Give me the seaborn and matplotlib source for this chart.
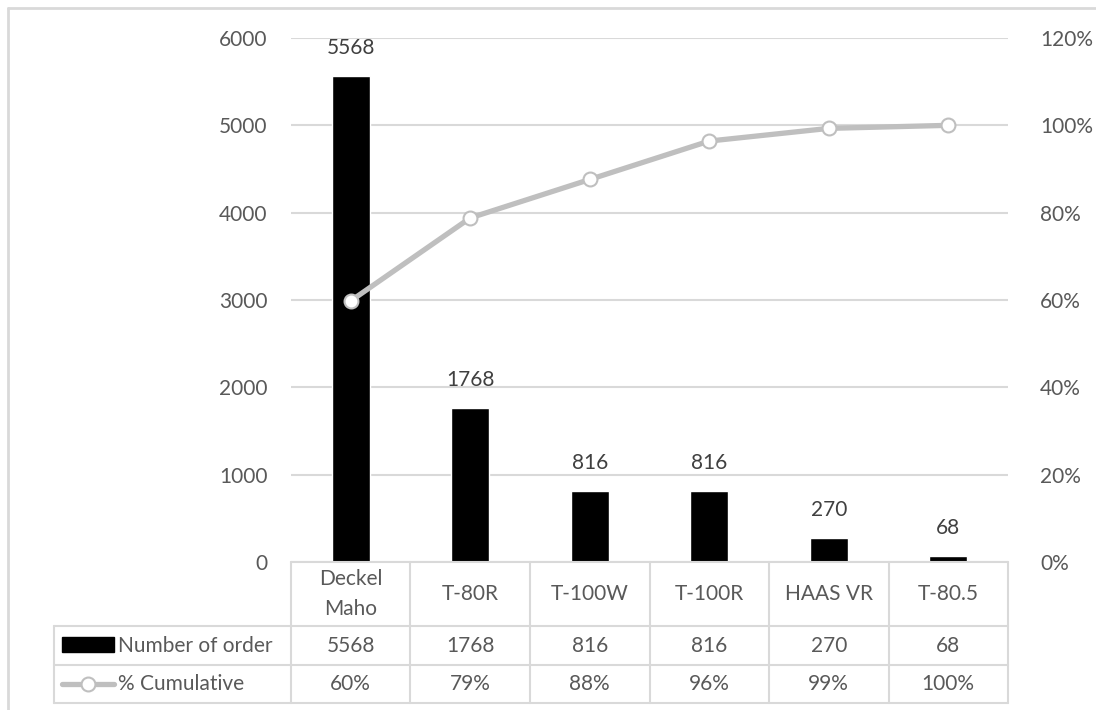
import numpy as np
import pandas as pd
import seaborn as sns
import matplotlib.pyplot as plt
from matplotlib.transforms import blended_transform_factory
from matplotlib.lines import Line2D
from matplotlib.patches import Rectangle

sns.set_theme(style="white")
plt.rcParams['font.family'] = ['Lato', 'DejaVu Sans']

categories = ["Deckel\nMaho", "T-80R", "T-100W", "T-100R", "HAAS VR", "T-80.5"]
orders = [5568, 1768, 816, 816, 270, 68]
cumulative = [59.8, 78.8, 87.6, 96.4, 99.3, 100.0]
cum_labels = ["60%", "79%", "88%", "96%", "99%", "100%"]
series_names = ["Number of order", "% Cumulative"]

W, H = 1096, 710
fig = plt.figure(figsize=(W / 100, H / 100), dpi=100)
L, R, T, B = 291, 1008, 38, 562
ax = fig.add_axes([L / W, 1 - B / H, (R - L) / W, (B - T) / H])

TXT = "#595959"
GRID = "#D9D9D9"
FS = 15

df = pd.DataFrame({"cat": categories, "orders": orders, "cum": cumulative})
sns.barplot(data=df, x="cat", y="orders", color="black", width=0.32,
            saturation=1, ax=ax, zorder=3)
ax.set_ylim(0, 6000)
ax.set_yticks(np.arange(0, 6001, 1000))
ax.set_xlim(-0.5, len(categories) - 0.5)
ax.yaxis.grid(True, color=GRID, linewidth=1.5)
ax.set_axisbelow(True)
for s in ax.spines.values():
    s.set_visible(False)
ax.set_xlabel("")
ax.set_ylabel("")
ax.set_xticks([])
ax.tick_params(axis="y", length=0, pad=17, labelsize=FS, labelcolor=TXT)
for c in ax.containers:
    ax.bar_label(c, labels=[str(v) for v in orders], padding=13,
                 fontsize=FS, color="#404040")

ax2 = ax.twinx()
ax2.set_position(ax.get_position())
sns.lineplot(x=np.arange(len(cumulative)), y=df["cum"], ax=ax2, color="#BFBFBF",
             linewidth=3.8, marker="o", markersize=10, markerfacecolor="white",
             markeredgecolor="#BFBFBF", markeredgewidth=1.5, zorder=4)
ax2.set_ylim(0, 120)
ax2.set_yticks(np.arange(0, 121, 20))
ax2.set_yticklabels([f"{v}%" for v in range(0, 121, 20)])
ax2.tick_params(axis="y", length=0, pad=23, labelsize=FS, labelcolor=TXT)
ax2.set_ylabel("")
ax2.grid(False)
for s in ax2.spines.values():
    s.set_visible(False)
ax2.set_xlim(-0.5, len(categories) - 0.5)

# Data table
tr = blended_transform_factory(ax.transData, fig.transFigure)
def fy(px):
    return 1 - px / H
def fx(px):
    return px / W

y_axis, y_r1, y_r2, y_bot = 562, 626, 665, 703
x_left = 54
tab_kw = dict(color=GRID, linewidth=1.5, clip_on=False)
fig.add_artist(Line2D([fx(L), fx(R)], [fy(y_axis)] * 2, **tab_kw))
for yy in (y_r1, y_r2, y_bot):
    fig.add_artist(Line2D([fx(x_left), fx(R)], [fy(yy)] * 2, **tab_kw))
fig.add_artist(Line2D([fx(x_left)] * 2, [fy(y_r1), fy(y_bot)], **tab_kw))
for i in range(len(categories) + 1):
    xb = i - 0.5
    fig.add_artist(Line2D([xb, xb], [fy(y_axis), fy(y_bot)], transform=tr, **tab_kw))

for i, (c, n, p) in enumerate(zip(categories, orders, cum_labels)):
    fig.text(i, fy((y_axis + y_r1) / 2), c, transform=tr, ha="center", va="center",
             fontsize=FS, color=TXT, linespacing=1.6)
    fig.text(i, fy((y_r1 + y_r2) / 2), str(n), transform=tr, ha="center", va="center",
             fontsize=FS, color=TXT)
    fig.text(i, fy((y_r2 + y_bot) / 2), p, transform=tr, ha="center", va="center",
             fontsize=FS, color=TXT)

# legend keys
fig.add_artist(Rectangle((fx(62), fy(652)), fx(114) - fx(62), fy(637) - fy(652),
                         transform=fig.transFigure, color="black"))
fig.text(fx(118), fy((y_r1 + y_r2) / 2), series_names[0], ha="left", va="center",
         fontsize=FS, color=TXT)
ym = fy((y_r2 + y_bot) / 2)
fig.add_artist(Line2D([fx(62), fx(114)], [ym, ym], color="#BFBFBF", linewidth=3.8))
fig.add_artist(Line2D([fx(88)], [ym], marker="o", markersize=10, markerfacecolor="white",
                      markeredgecolor="#BFBFBF", markeredgewidth=1.5, linestyle="none"))
fig.text(fx(118), ym, series_names[1], ha="left", va="center", fontsize=FS, color=TXT)

# chart area border (top and left visible)
fig.add_artist(Line2D([fx(8), 1], [fy(8), fy(8)], color=GRID, linewidth=2))
fig.add_artist(Line2D([fx(8), fx(8)], [fy(8), 0], color=GRID, linewidth=2))

fig.savefig("out.png", dpi=100)
